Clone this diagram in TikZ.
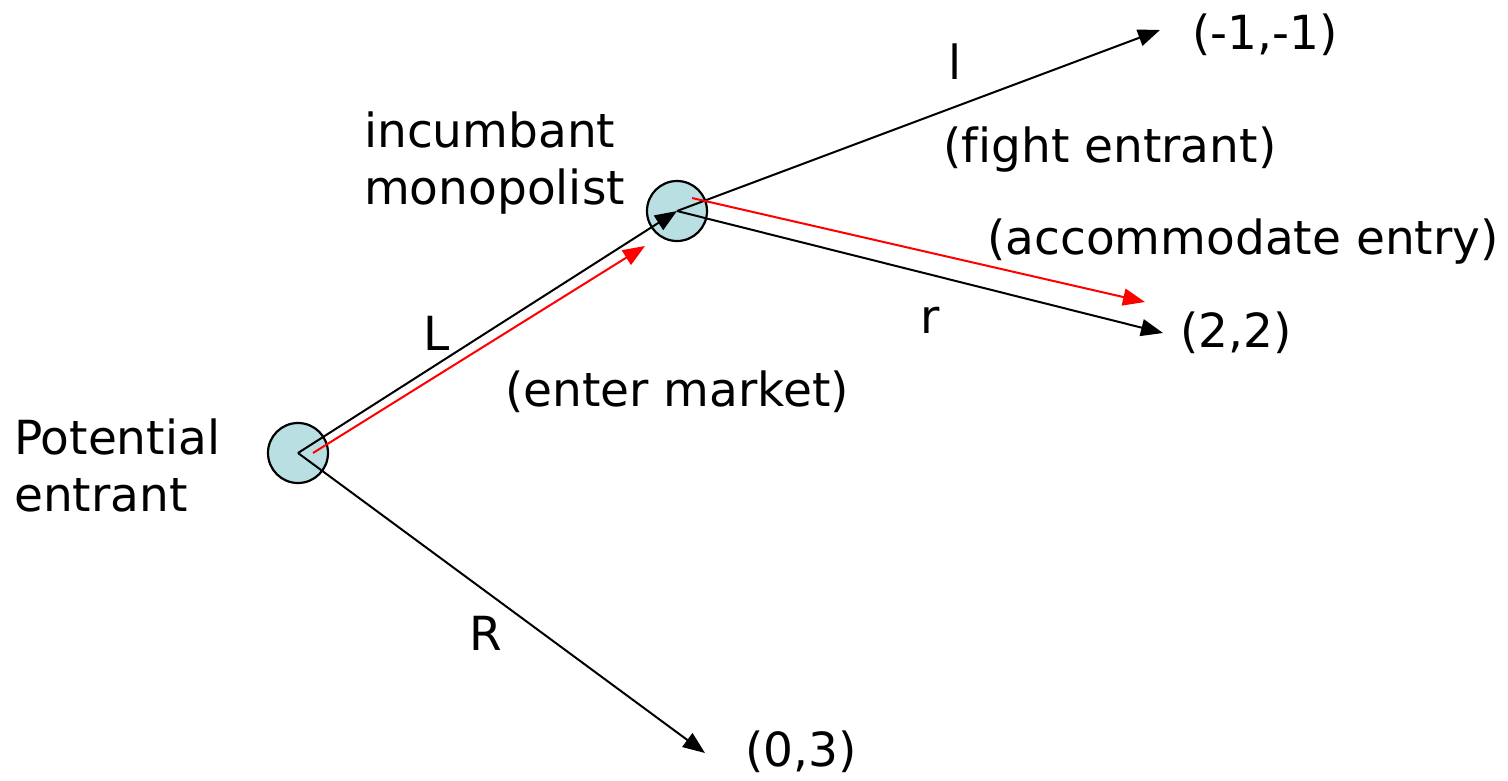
\documentclass[tikz,border=0pt]{standalone}
\usepackage{fontspec}
\setmainfont[Ligatures={NoCommon}]{DejaVu Sans}
\usepackage{xcolor}
\definecolor{nodeTeal}{HTML}{B9DFE3}
\usepackage{tikz}
\usetikzlibrary{arrows.meta, positioning}

\begin{document}
\begin{tikzpicture}[
    x=1pt, y=-1pt,
    every node/.style={font=\fontsize{47}{57}\selectfont, inner sep=0pt},
    decnode/.style={circle, draw=black, line width=2.2pt, fill=nodeTeal, minimum size=60pt},
    lbl/.style={align=left, anchor=west},
    move/.style={-{Triangle[length=22pt,width=17pt]}, line width=2pt, draw=black},
    best/.style={-{Triangle[length=22pt,width=17pt]}, line width=2pt, draw=red}
]
\useasboundingbox (0,0) rectangle (1508,780);

\node (root) [decnode] at (298,453) {};
\node (inc) [decnode] at (677,211) {};

\coordinate (lend) at (1160,30);
\coordinate (rend) at (1163,333);
\coordinate (Rend) at (705,753);

\node (pm1) [anchor=west] at (1192,35) {(-1,-1)};
\node (p22) [anchor=west] at (1180,333) {(2,2)};
\node (p03) [anchor=west] at (745,752) {(0,3)};

\node (rootlbl) [lbl] at (14,465) {Potential\\entrant};
\node (inclbl) [lbl] at (364,163) {incumbant\\monopolist};

\node (Llbl) at (437,333) {L};
\node (Rlbl) at (486,633) {R};
\node (enter) at (677,392) {(enter market)};
\node (llbl) at (955,62) {l};
\node (fight) at (1110,150) {(fight entrant)};
\node (rlbl) at (930,320) {r};
\node (accom) at (1243,242) {(accommodate entry)};

% tree edges
\draw [move] (root.center) -- (inc.center);
\draw [move] (root.center) -- (Rend);
\draw [move] (inc.center) -- (lend);
\draw [move] (inc.center) -- (rend);

% equilibrium path
\draw [best] ([xshift=15pt]root.center) -- ([shift={(-32pt,-35pt)}]inc.center);
\draw [best] ([shift={(15pt,13pt)}]inc.center) -- ([shift={(-18pt,31pt)}]rend);

\end{tikzpicture}
\end{document}
